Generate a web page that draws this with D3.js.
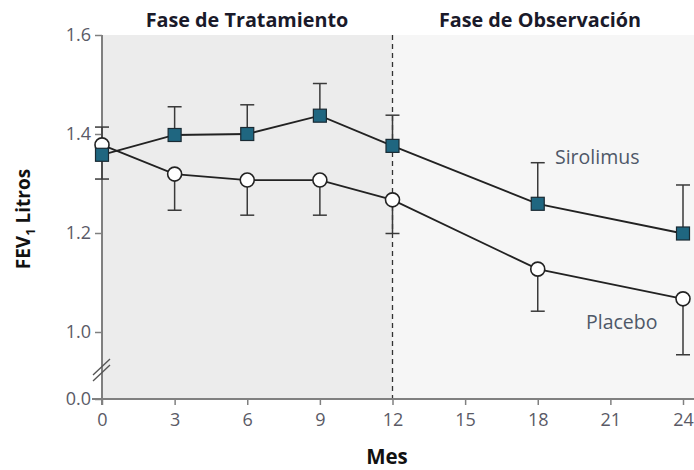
<!DOCTYPE html>
<html><head><meta charset="utf-8">
<script src="https://cdn.jsdelivr.net/npm/d3@7"></script>
<style>body{margin:0;background:#fff}svg{display:block}</style>
</head><body>
<svg id="c" width="694" height="470"></svg>
<script>
const months = [0, 3, 6, 9, 12, 18, 24];
const sirolimus = [1.358, 1.398, 1.400, 1.437, 1.376, 1.259, 1.199];
const sirolimusUpper = [1.414, 1.455, 1.459, 1.502, 1.438, 1.342, 1.297];
const placebo = [1.378, 1.319, 1.307, 1.307, 1.267, 1.127, 1.067];
const placeboLower = [1.309, 1.246, 1.236, 1.236, 1.199, 1.042, 0.954];
const xTicks = [0, 3, 6, 9, 12, 15, 18, 21, 24];
const yTicks = [0.0, 1.0, 1.2, 1.4, 1.6];
const phases = ["Fase de Tratamiento", "Fase de Observación"];
const seriesLabels = ["Sirolimus", "Placebo"];

const svg = d3.select("#c");
const x = d3.scaleLinear().domain([0, 24]).range([102, 683]);
const y = d3.scaleLinear().domain([0, 0.9, 1.6]).range([399, 381.5, 35]);

// backgrounds
svg.append("rect").attr("x", x(0)).attr("y", y(1.6)).attr("width", x(12) - x(0)).attr("height", y(0) - y(1.6)).attr("fill", "#ececec");
svg.append("rect").attr("x", x(12)).attr("y", y(1.6)).attr("width", 694 - x(12)).attr("height", y(0) - y(1.6)).attr("fill", "#f6f6f6");

// phase titles
svg.selectAll("text.phase").data(phases).join("text").attr("class", "phase")
  .attr("x", (d, i) => i === 0 ? 247 : 540).attr("y", 27)
  .attr("text-anchor", "middle").attr("font-family", "Open Sans").attr("font-weight", "bold")
  .attr("font-size", 19.8).attr("fill", "#1a1a2a").text(d => d);

// dashed phase divider
svg.append("line").attr("x1", x(12)).attr("x2", x(12)).attr("y1", y(1.6)).attr("y2", y(0))
  .attr("stroke", "#333").attr("stroke-width", 1.3).attr("stroke-dasharray", "5,4");

// axes
const xAxis = svg.append("g").attr("transform", `translate(0,${y(0)})`)
  .call(d3.axisBottom(x).tickValues(xTicks).tickSize(6).tickPadding(8).tickFormat(d3.format("d")));
xAxis.select(".domain").attr("d", `M92,0H694`);
const yAxis = svg.append("g").attr("transform", `translate(${x(0)},0)`)
  .call(d3.axisLeft(y).tickValues(yTicks).tickSize(7).tickPadding(4).tickFormat(d3.format(".1f")));
yAxis.select(".domain").attr("d", `M0,${y(1.6)}V${y(0) + 6}`);
[xAxis, yAxis].forEach(g => {
  g.selectAll(".domain").attr("stroke", "#808080").attr("stroke-width", 2);
  g.selectAll(".tick line").attr("stroke", "#808080").attr("stroke-width", 1.5);
  g.selectAll("text").attr("font-family", "Open Sans").attr("font-size", 18).attr("fill", "#5a5a66");
});
xAxis.selectAll(".tick line").attr("y1", 0);

// axis break marks
[0, 6].forEach(off => {
  svg.append("line").attr("x1", 93).attr("y1", 381 - off).attr("x2", 110).attr("y2", 365 - off)
    .attr("stroke", "#555").attr("stroke-width", 1.3);
});

// axis titles
svg.append("text").attr("x", 387).attr("y", 464).attr("text-anchor", "middle")
  .attr("font-family", "Open Sans").attr("font-weight", "bold").attr("font-size", 20.5).attr("fill", "#111").text("Mes");
const yt = svg.append("text").attr("transform", "translate(30,219) rotate(-90)").attr("text-anchor", "middle")
  .attr("font-family", "Open Sans").attr("font-weight", "bold").attr("font-size", 19).attr("fill", "#111");
yt.append("tspan").text("FEV");
yt.append("tspan").attr("font-size", 13).attr("dy", 5).text("1");
yt.append("tspan").attr("dy", -5).text(" Litros");

const sData = months.map((m, i) => ({m, v: sirolimus[i], e: sirolimusUpper[i]}));
const pData = months.map((m, i) => ({m, v: placebo[i], e: placeboLower[i]}));

// error bars
function errBars(data) {
  const g = svg.append("g").attr("stroke", "#3a3a3a").attr("stroke-width", 1.5);
  g.selectAll("line.v").data(data).join("line").attr("x1", d => x(d.m)).attr("x2", d => x(d.m))
    .attr("y1", d => y(d.v)).attr("y2", d => y(d.e));
  g.selectAll("line.c").data(data).join("line").attr("x1", d => x(d.m) - 7).attr("x2", d => x(d.m) + 7)
    .attr("y1", d => y(d.e)).attr("y2", d => y(d.e));
}
errBars(sData);
errBars(pData);

const line = d3.line().x(d => x(d.m)).y(d => y(d.v));
svg.append("path").datum(sData).attr("d", line).attr("fill", "none").attr("stroke", "#222").attr("stroke-width", 1.8);
svg.append("path").datum(pData).attr("d", line).attr("fill", "none").attr("stroke", "#222").attr("stroke-width", 1.8);

svg.selectAll("circle.p").data(pData).join("circle").attr("class", "p")
  .attr("cx", d => x(d.m)).attr("cy", d => y(d.v)).attr("r", 7)
  .attr("fill", "#fff").attr("stroke", "#222").attr("stroke-width", 1.6);
svg.selectAll("rect.s").data(sData).join("rect").attr("class", "s")
  .attr("x", d => x(d.m) - 6.5).attr("y", d => y(d.v) - 6.5).attr("width", 13).attr("height", 13)
  .attr("fill", "#1f6680").attr("stroke", "#1a2a33").attr("stroke-width", 1.2);

// series labels
svg.append("text").attr("x", 555).attr("y", 164).attr("font-family", "Open Sans").attr("font-size", 19.5)
  .attr("fill", "#4e5868").text(seriesLabels[0]);
svg.append("text").attr("x", 586).attr("y", 329).attr("font-family", "Open Sans").attr("font-size", 19.5)
  .attr("fill", "#4e5868").text(seriesLabels[1]);
</script>
</body></html>
